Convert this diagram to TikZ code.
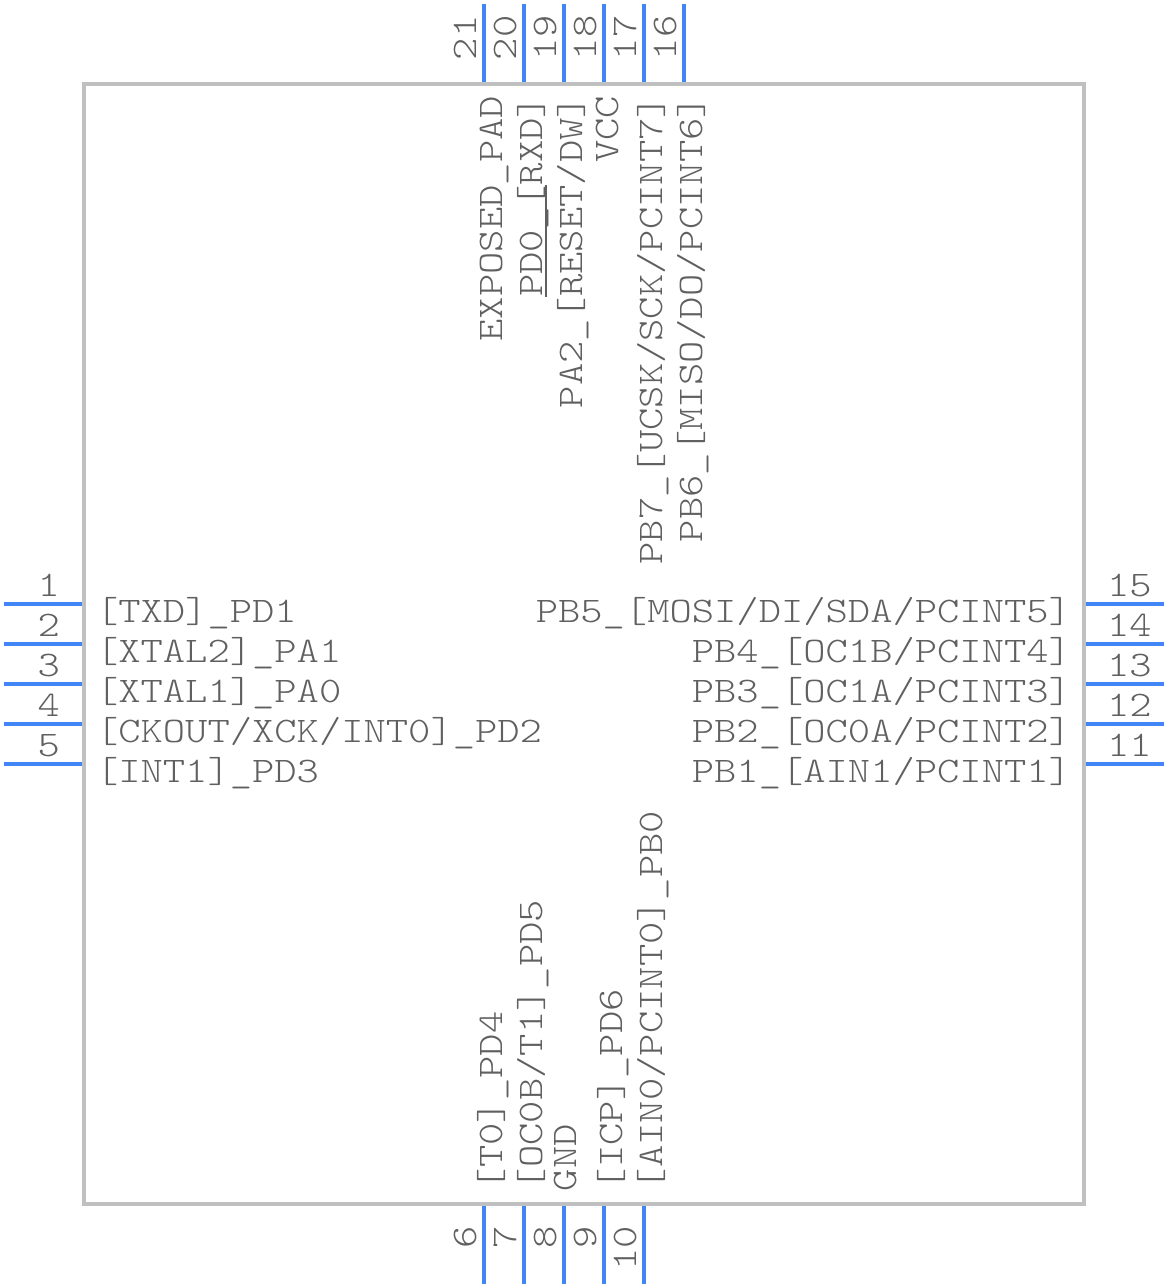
\documentclass[tikz,border=0pt]{standalone}
\usepackage{fontspec}
\newfontfamily\chipfont[FakeStretch=1.18]{Latin Modern Mono Light}
\definecolor{pinblue}{HTML}{4285F4}
\definecolor{boxgray}{HTML}{C0C0C0}
\definecolor{textgray}{HTML}{606060}
\newcommand{\ovl}[2]{\rlap{\color{textgray}\rule[34.8pt]{#1}{2.4pt}}#2}
\tikzset{
  chipbox/.style={draw=boxgray,line width=4pt,minimum width=1000pt,minimum height=1120pt,inner sep=0pt,outer sep=0pt},
  pinline/.style={draw=pinblue,line width=4pt},
  lbl/.style={text=textgray,inner sep=0pt,outer sep=0pt,font=\chipfont\fontsize{36pt}{36pt}\selectfont},
  lw/.style={lbl,anchor=base west},
  le/.style={lbl,anchor=base east},
  vw/.style={lbl,anchor=base west,rotate=90},
  ve/.style={lbl,anchor=base east,rotate=90}
}
\begin{document}
\begin{tikzpicture}[x=1pt,y=-1pt]
\useasboundingbox (0,0) rectangle (1168,1288);
\node[chipbox] (chip) at (584,644) {};
% left pins
\foreach \n/\y in {1/604,2/644,3/684,4/724,5/764}{
  \coordinate (a\n) at (4,\y); \coordinate (b\n) at (82,\y);
  \draw[pinline] (a\n) -- (b\n);
  \node[le] (n\n) at (60,\y-8) {\n};
}
% right pins
\foreach \n/\y in {15/604,14/644,13/684,12/724,11/764}{
  \coordinate (a\n) at (1164,\y); \coordinate (b\n) at (1086,\y);
  \draw[pinline] (a\n) -- (b\n);
  \node[lw] (n\n) at (1107,\y-8) {\n};
}
% bottom pins
\foreach \n/\x in {6/484,7/524,8/564,9/604,10/644}{
  \coordinate (a\n) at (\x,1284); \coordinate (b\n) at (\x,1206);
  \draw[pinline] (a\n) -- (b\n);
  \node[ve] (n\n) at (\x-8,1226) {\n};
}
% top pins
\foreach \n/\x in {21/484,20/524,19/564,18/604,17/644,16/684}{
  \coordinate (a\n) at (\x,4); \coordinate (b\n) at (\x,82);
  \draw[pinline] (a\n) -- (b\n);
  \node[vw] (n\n) at (\x-8,60) {\n};
}
% left labels
\node[lw] (t1) at (96,622) {[TXD]\_PD1};
\node[lw] (t2) at (96,662) {[XTAL2]\_PA1};
\node[lw] (t3) at (96,702) {[XTAL1]\_PA0};
\node[lw] (t4) at (96,742) {[CKOUT/XCK/INT0]\_PD2};
\node[lw] (t5) at (96,782) {[INT1]\_PD3};
% right labels
\node[le] (t15) at (1071,622) {PB5\_[MOSI/DI/SDA/PCINT5]};
\node[le] (t14) at (1071,662) {PB4\_[OC1B/PCINT4]};
\node[le] (t13) at (1071,702) {PB3\_[OC1A/PCINT3]};
\node[le] (t12) at (1071,742) {PB2\_[OC0A/PCINT2]};
\node[le] (t11) at (1071,782) {PB1\_[AIN1/PCINT1]};
% top labels
\node[ve] (t21) at (502,96) {EXPOSED\_PAD};
\node[ve] (t20) at (542,96) {PD0\_[RXD]};
\node[ve] (t19) at (582,96) {PA2\_[\ovl{112pt}{RESET}/DW]};
\node[ve] (t18) at (618,96) {VCC};
\node[ve] (t17) at (662,96) {PB7\_[UCSK/SCK/PCINT7]};
\node[ve] (t16) at (702,96) {PB6\_[MISO/DO/PCINT6]};
% bottom labels
\node[vw] (t6) at (502,1190) {[T0]\_PD4};
\node[vw] (t7) at (542,1190) {[OC0B/T1]\_PD5};
\node[vw] (t8) at (576,1191) {GND};
\node[vw] (t9) at (622,1190) {[ICP]\_PD6};
\node[vw] (t10) at (662,1190) {[AIN0/PCINT0]\_PB0};
\end{tikzpicture}
\end{document}
